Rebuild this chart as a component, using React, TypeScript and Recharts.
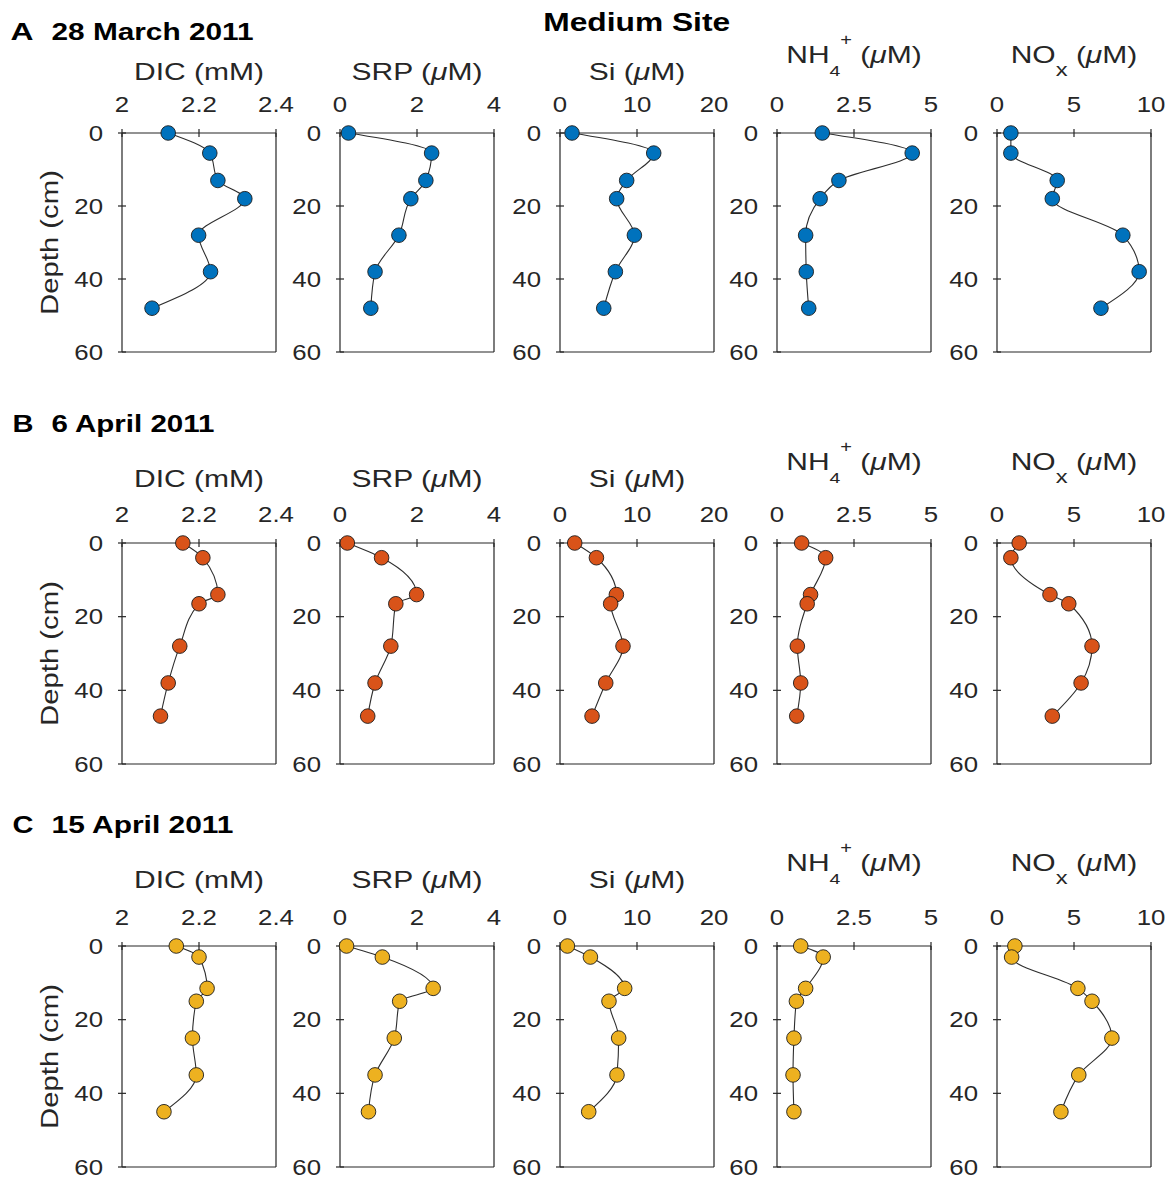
import React from "react";
import { ScatterChart, Scatter, XAxis, YAxis } from "recharts";

// Sample depths (cm) for each sampling date
const depthMar28 = [0, 5.5, 13, 18, 28, 38, 48];
const depthApr6 = [0, 4, 14, 16.5, 28, 38, 47];
const depthApr15 = [0, 3, 11.5, 15, 25, 35, 45];

// Porewater profiles, 28 March 2011
const dicMar28 = [2.12, 2.228, 2.249, 2.319, 2.199, 2.23, 2.078];
const srpMar28 = [0.22, 2.38, 2.23, 1.84, 1.53, 0.91, 0.8];
const siMar28 = [1.56, 12.17, 8.66, 7.36, 9.66, 7.19, 5.68];
const nh4Mar28 = [1.47, 4.39, 2.01, 1.4, 0.93, 0.95, 1.03];
const noxMar28 = [0.9, 0.9, 3.91, 3.59, 8.17, 9.23, 6.75];

// 6 April 2011
const dicApr6 = [2.158, 2.21, 2.249, 2.2, 2.15, 2.12, 2.1];
const srpApr6 = [0.19, 1.08, 1.99, 1.45, 1.32, 0.91, 0.72];
const siApr6 = [1.91, 4.73, 7.32, 6.58, 8.18, 5.94, 4.16];
const nh4Apr6 = [0.8, 1.58, 1.09, 0.98, 0.66, 0.77, 0.64];
const noxApr6 = [1.44, 0.9, 3.44, 4.66, 6.17, 5.46, 3.59];

// 15 April 2011
const dicApr15 = [2.141, 2.2, 2.221, 2.193, 2.183, 2.193, 2.109];
const srpApr15 = [0.17, 1.1, 2.42, 1.55, 1.41, 0.91, 0.74];
const siApr15 = [0.96, 3.95, 8.4, 6.36, 7.62, 7.4, 3.73];
const nh4Apr15 = [0.77, 1.5, 0.93, 0.63, 0.55, 0.52, 0.55];
const noxApr15 = [1.16, 0.95, 5.25, 6.17, 7.46, 5.31, 4.15];

const depthTicks = [0, 20, 40, 60];
const dicTicks = [2, 2.2, 2.4];
const srpTicks = [0, 2, 4];
const siTicks = [0, 10, 20];
const nh4Ticks = [0, 2.5, 5];
const noxTicks = [0, 5, 10];

const rowLetters = ["A", "B", "C"];
const rowDates = ["28 March 2011", "6 April 2011", "15 April 2011"];
const rowColors = ["#0072BD", "#D95319", "#EDB120"];

type VarKey = "dic" | "srp" | "si" | "nh4" | "nox";
const varKeys: VarKey[] = ["dic", "srp", "si", "nh4", "nox"];
const varTicks: number[][] = [dicTicks, srpTicks, siTicks, nh4Ticks, noxTicks];

const rows = [
  { depth: depthMar28, values: [dicMar28, srpMar28, siMar28, nh4Mar28, noxMar28] },
  { depth: depthApr6, values: [dicApr6, srpApr6, siApr6, nh4Apr6, noxApr6] },
  { depth: depthApr15, values: [dicApr15, srpApr15, siApr15, nh4Apr15, noxApr15] },
];

// layout (px)
const COL_LEFT = [122, 340, 560, 777, 997];
const PLOT_W = 154;
const ROW_TOP = [133, 543, 946];
const ROW_H = [219, 221, 221];
const TITLE_GAP = [53, 56, 58];
const ROW_TITLE_BASE = [39.5, 432, 833];
const DATE_WIDTH = [202, 163, 182];
const TOP_SPACE = 80;
const TOP_AXIS_H = 30;
const RIGHT_SPACE = 22;

const FONT = '"Liberation Sans", Arial, Helvetica, sans-serif';
const INK = "#262626";
const LINE = "#2e2e2e";
const TICK_SX = 1.2;
const TITLE_SX = 1.25;

const axisStroke = { stroke: INK, strokeWidth: 1.2 };

const TopTick = (p: any) => (
  <g transform={`translate(${p.x},${p.y}) scale(${TICK_SX},1)`}>
    <text x={0} y={0} textAnchor="middle" fontSize={21.5} fill={INK} fontFamily={FONT}>
      {p.payload.value}
    </text>
  </g>
);

const LeftTick = (p: any) => (
  <g transform={`translate(${p.x},${p.y}) scale(${TICK_SX},1)`}>
    <text x={0} y={0} dy="0.36em" textAnchor="end" fontSize={21.5} fill={INK} fontFamily={FONT}>
      {p.payload.value}
    </text>
  </g>
);

const NoTick = () => <g />;

function TitleText({ kind }: { kind: VarKey }) {
  const mu = <tspan fontStyle="italic">μ</tspan>;
  switch (kind) {
    case "dic":
      return <>DIC (mM)</>;
    case "srp":
      return <>SRP ({mu}M)</>;
    case "si":
      return <>Si ({mu}M)</>;
    case "nh4":
      return (
        <>
          NH
          <tspan fontSize={15.5} dy={13}>4</tspan>
          <tspan fontSize={16} dy={-31}>+</tspan>
          <tspan dy={18}> (</tspan>
          {mu}M)
        </>
      );
    default:
      return (
        <>
          NO
          <tspan fontSize={19} dy={13}>x</tspan>
          <tspan dy={-13}> (</tspan>
          {mu}M)
        </>
      );
  }
}

function AxisTitle(props: any) {
  const { viewBox, kind, gap } = props;
  const vb = viewBox || { x: 0, y: 0, width: 0, height: 0 };
  const cx = vb.x + vb.width / 2;
  const lift = kind === "nh4" || kind === "nox" ? 17 : 0;
  const y = vb.y + vb.height - gap - lift;
  return (
    <g transform={`translate(${cx},${y}) scale(${TITLE_SX},1)`}>
      <text x={0} y={0} textAnchor="middle" fontSize={24} fill={INK} fontFamily={FONT}>
        <TitleText kind={kind} />
      </text>
    </g>
  );
}

function DepthLabel(props: any) {
  const vb = props.viewBox || { x: 0, y: 0, width: 0, height: 0 };
  const x = vb.x + vb.width - 64.5;
  const y = vb.y + vb.height / 2;
  return (
    <g transform={`translate(${x},${y}) rotate(-90) scale(1.22,1)`}>
      <text x={0} y={0} textAnchor="middle" fontSize={24} fill={INK} fontFamily={FONT}>
        Depth (cm)
      </text>
    </g>
  );
}

const makeDot = (color: string) => (p: any) => (
  <circle cx={p.cx} cy={p.cy} r={7.3} fill={color} stroke="#1c1c1c" strokeWidth={0.9} />
);

function Panel({ row, col }: { row: number; col: number }) {
  const ticks = varTicks[col];
  const domain = [ticks[0], ticks[ticks.length - 1]];
  const { depth, values } = rows[row];
  const pts = depth.map((d, i) => ({ v: values[col][i], d }));
  const leftW = col === 0 ? 90 : 60;
  const plotH = ROW_H[row];
  const width = leftW + PLOT_W + 8 + RIGHT_SPACE;
  const height = TOP_SPACE + TOP_AXIS_H + plotH + 8 + 4;

  return (
    <div
      style={{
        position: "absolute",
        left: COL_LEFT[col] - leftW,
        top: ROW_TOP[row] - TOP_SPACE - TOP_AXIS_H,
      }}
    >
      <ScatterChart
        width={width}
        height={height}
        margin={{ top: TOP_SPACE, right: RIGHT_SPACE, bottom: 4, left: 0 }}
      >
        <XAxis
          xAxisId="t"
          orientation="top"
          type="number"
          dataKey="v"
          domain={domain}
          ticks={ticks}
          height={TOP_AXIS_H}
          axisLine={axisStroke}
          tickLine={{ ...axisStroke, transform: "translate(0,4)" }}
          tickSize={8}
          tickMargin={13}
          tick={TopTick}
          interval={0}
          label={<AxisTitle kind={varKeys[col]} gap={TITLE_GAP[row]} />}
        />
        <XAxis
          xAxisId="b"
          orientation="bottom"
          type="number"
          domain={domain}
          ticks={ticks}
          height={8}
          axisLine={axisStroke}
          tickLine={{ ...axisStroke, transform: "translate(0,-4)" }}
          tickSize={8}
          tick={NoTick}
          interval={0}
        />
        <YAxis
          yAxisId="l"
          orientation="left"
          type="number"
          dataKey="d"
          domain={[0, 60]}
          ticks={depthTicks}
          reversed
          width={leftW}
          axisLine={axisStroke}
          tickLine={{ ...axisStroke, transform: "translate(4,0)" }}
          tickSize={8}
          tickMargin={11}
          tick={LeftTick}
          interval={0}
          label={col === 0 ? <DepthLabel /> : undefined}
        />
        <YAxis
          yAxisId="r"
          orientation="right"
          type="number"
          domain={[0, 60]}
          ticks={depthTicks}
          reversed
          width={8}
          axisLine={axisStroke}
          tickLine={{ ...axisStroke, transform: "translate(-4,0)" }}
          tickSize={8}
          tick={NoTick}
          interval={0}
        />
        <Scatter
          data={pts}
          xAxisId="t"
          yAxisId="l"
          fill={rowColors[row]}
          line={{ stroke: LINE, strokeWidth: 1.1 }}
          lineType="joint"
          lineJointType="monotoneY"
          shape={makeDot(rowColors[row])}
          isAnimationActive={false}
        />
      </ScatterChart>
    </div>
  );
}

export default function App() {
  return (
    <div
      style={{
        position: "absolute",
        left: 0,
        top: 0,
        width: 1174,
        height: 1184,
        background: "#fff",
        fontFamily: FONT,
      }}
    >
      <svg
        width={1174}
        height={1184}
        style={{ position: "absolute", left: 0, top: 0 }}
      >
        <text
          x={636.7}
          y={30.7}
          textAnchor="middle"
          fontSize={26}
          fontWeight="bold"
          fontFamily={FONT}
          fill="#000"
          textLength={187}
          lengthAdjust="spacingAndGlyphs"
        >
          Medium Site
        </text>
        {rowLetters.map((letter, r) => (
          <g key={letter}>
            <text
              x={r === 0 ? 10.5 : 12.5}
              y={ROW_TITLE_BASE[r]}
              fontSize={24.5}
              fontWeight="bold"
              fontFamily={FONT}
              fill="#000"
              textLength={r === 0 ? 23 : 21}
              lengthAdjust="spacingAndGlyphs"
            >
              {letter}
            </text>
            <text
              x={51.5}
              y={ROW_TITLE_BASE[r]}
              fontSize={24.5}
              fontWeight="bold"
              fontFamily={FONT}
              fill="#000"
              textLength={DATE_WIDTH[r]}
              lengthAdjust="spacingAndGlyphs"
            >
              {rowDates[r]}
            </text>
          </g>
        ))}
      </svg>
      {rows.map((_, r) =>
        varKeys.map((k, c) => <Panel key={`${r}-${k}`} row={r} col={c} />)
      )}
    </div>
  );
}
